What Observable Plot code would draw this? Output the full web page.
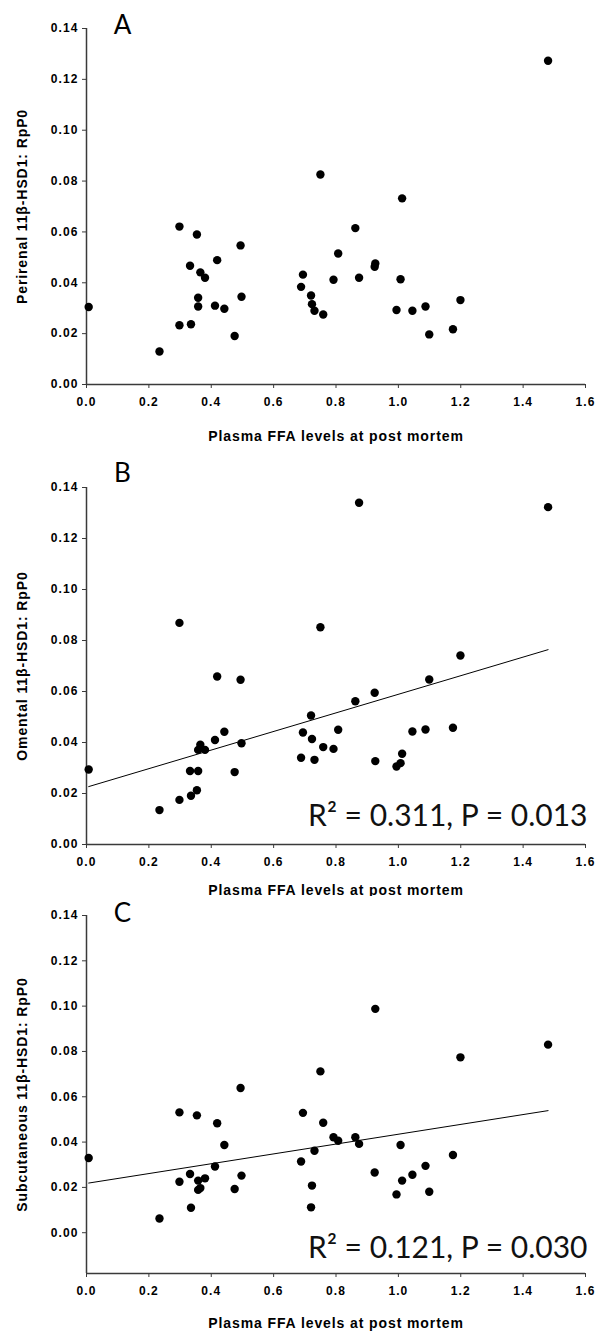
<!DOCTYPE html>
<html><head><meta charset="utf-8">
<script src="https://cdn.jsdelivr.net/npm/d3@7"></script>
<script src="https://cdn.jsdelivr.net/npm/@observablehq/plot@0.6"></script>
<style>
body{margin:0;background:#fff;}
#chart svg{display:block;}
g[aria-label="x-axis tick label"] text, g[aria-label="y-axis tick label"] text {font-size:12px; letter-spacing:1.1px;}
g[aria-label="x-axis label"] text, g[aria-label="y-axis label"] text {font-size:14px; letter-spacing:0.9px;}
</style></head><body><div id="chart"></div>
<script>
// Plasma FFA levels at post mortem (shared x for all panels)
const ffa = [0.007, 0.234, 0.298, 0.298, 0.332, 0.335, 0.354, 0.358, 0.358, 0.365,
  0.380, 0.412, 0.419, 0.442, 0.475, 0.494, 0.497, 0.688, 0.694, 0.720,
  0.723, 0.731, 0.750, 0.759, 0.792, 0.807, 0.862, 0.874, 0.924, 0.926,
  0.994, 1.007, 1.012, 1.045, 1.087, 1.099, 1.175, 1.199, 1.480];
const perirenal = [0.0305, 0.0130, 0.0621, 0.0233, 0.0467, 0.0237, 0.0590, 0.0341, 0.0307, 0.0441,
  0.0420, 0.0310, 0.0489, 0.0298, 0.0191, 0.0547, 0.0345, 0.0384, 0.0432, 0.0350,
  0.0316, 0.0290, 0.0826, 0.0275, 0.0412, 0.0515, 0.0615, 0.0420, 0.0463, 0.0476,
  0.0293, 0.0414, 0.0732, 0.0290, 0.0307, 0.0197, 0.0217, 0.0332, 0.1273];
const omental = [0.0294, 0.0135, 0.0869, 0.0175, 0.0288, 0.0191, 0.0213, 0.0288, 0.0371, 0.0391,
  0.0371, 0.0410, 0.0659, 0.0442, 0.0284, 0.0646, 0.0397, 0.0340, 0.0439, 0.0506,
  0.0414, 0.0332, 0.0852, 0.0382, 0.0375, 0.0450, 0.0562, 0.1340, 0.0595, 0.0327,
  0.0306, 0.0319, 0.0356, 0.0443, 0.0451, 0.0647, 0.0458, 0.0741, 0.1323];
const subcutaneous = [0.0330, 0.0063, 0.0531, 0.0225, 0.0259, 0.0110, 0.0518, 0.0230, 0.0189, 0.0197,
  0.0240, 0.0292, 0.0483, 0.0387, 0.0193, 0.0639, 0.0252, 0.0314, 0.0529, 0.0112,
  0.0208, 0.0362, 0.0712, 0.0485, 0.0421, 0.0406, 0.0421, 0.0392, 0.0266, 0.0988,
  0.0169, 0.0387, 0.0230, 0.0256, 0.0295, 0.0181, 0.0343, 0.0774, 0.0830];

const panelLetters = ["A", "B", "C"];
const yLabels = ["Perirenal 11β-HSD1: RpP0", "Omental 11β-HSD1: RpP0", "Subcutaneous 11β-HSD1: RpP0"];
const xLabel = "Plasma FFA levels at post mortem";
const statTexts = [null, "R\u00B2 = 0.311, P = 0.013", "R\u00B2 = 0.121, P = 0.030"];
const showFit = [false, true, true];
const xTicks = [0, 0.2, 0.4, 0.6, 0.8, 1.0, 1.2, 1.4, 1.6];
const yTicks = [0, 0.02, 0.04, 0.06, 0.08, 0.10, 0.12, 0.14];
const xDomain = [0, 1.6];
const yDomains = [[0, 0.14], [0, 0.14], [-0.018, 0.14]];
const series = [perirenal, omental, subcutaneous];

// layout (not data)
const layout = [
  {height: 447, marginTop: 28, marginBottom: 63, letterDy: -3, statDy: 0, labelOffset: 56},
  {height: 449, marginTop: 40, marginBottom: 52, letterDy: -14, statDy: -19, labelOffset: 50},
  {height: 438, marginTop: 19, marginBottom: 61, letterDy: -2, statDy: -16, labelOffset: 54}
];

const root = document.getElementById("chart");
const axisColor = "#3a3a3a";

series.forEach((vals, i) => {
  const data = ffa.map((x, j) => ({x, y: vals[j]}));
  const L = layout[i];
  const marks = [
    Plot.ruleY([yDomains[i][0]], {stroke: axisColor, strokeWidth: 1.5}),
    Plot.ruleX([xDomain[0]], {stroke: axisColor, strokeWidth: 1.5}),
    Plot.axisX({ticks: xTicks, tickFormat: d3.format(".1f"), tickSize: 4, tickPadding: 9,
      stroke: axisColor, label: xLabel, labelAnchor: "center", labelArrow: "none", labelOffset: L.labelOffset}),
    Plot.axisY({ticks: yTicks, tickFormat: d3.format(".2f"), tickSize: 4, tickPadding: 4,
      stroke: axisColor, label: yLabels[i], labelAnchor: "center", labelArrow: "none", labelOffset: 69}),
    Plot.dot(data, {x: "x", y: "y", r: 4.2, fill: "#000", stroke: "none"}),
    Plot.text([panelLetters[i]], {frameAnchor: "top-left", dx: 36, dy: L.letterDy, text: d => d,
      fontSize: 26, fontFamily: "Lato, 'Open Sans', sans-serif", fontWeight: "normal",
      lineAnchor: "middle", textAnchor: "middle", fill: "#000"})
  ];
  if (showFit[i]) {
    marks.splice(4, 0, Plot.linearRegressionY(data, {x: "x", y: "y", ci: 0, stroke: "#000", strokeWidth: 1}));
  }
  if (statTexts[i]) {
    marks.push(Plot.text([statTexts[i]], {frameAnchor: "bottom-right", dx: 2, dy: L.statDy, text: d => d,
      fontSize: 30, fontFamily: "Lato, 'Open Sans', sans-serif", fontWeight: "normal",
      lineAnchor: "bottom", textAnchor: "end", fill: "#111"}));
  }
  const chart = Plot.plot({
    width: 595,
    height: L.height,
    marginLeft: 86,
    marginRight: 10,
    marginTop: L.marginTop,
    marginBottom: L.marginBottom,
    style: {fontFamily: "'Liberation Sans', Arial, sans-serif", fontWeight: "bold", fontSize: "12px", color: "#000", background: "#fff"},
    x: {domain: xDomain},
    y: {domain: yDomains[i]},
    marks
  });
  root.appendChild(chart);
});
</script>
</body></html>
